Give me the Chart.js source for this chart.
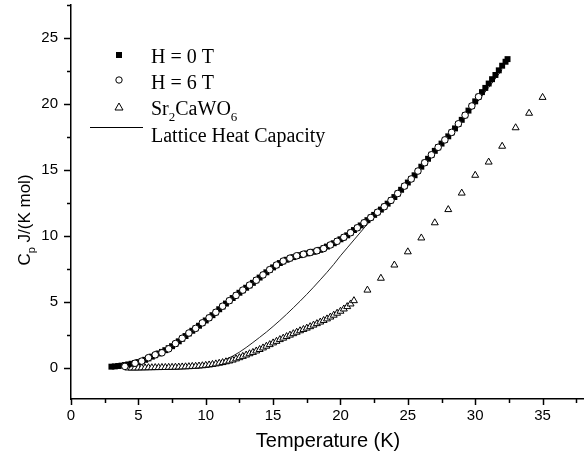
<!DOCTYPE html>
<html>
<head>
<meta charset="utf-8">
<script src="https://cdn.jsdelivr.net/npm/chart.js@4"></script>
<style>
  body { margin: 0; background: #fff; }
  canvas { display: block; }
</style>
</head>
<body>
<canvas id="cpChart" width="584" height="472"></canvas>
<script>
// ---- data ----

// H = 0 T (filled squares)
const tempH0 = [3.00, 3.25, 3.50, 3.75, 4.00, 4.25, 4.50, 4.75, 5.00, 5.25, 5.50, 5.75, 6.00, 6.25, 6.50, 6.75,
  7.00, 7.25, 7.50, 7.75, 8.00, 8.25, 8.50, 8.75, 9.00, 9.25, 9.50, 9.75, 10.00, 10.25, 10.50, 10.75,
  11.00, 11.25, 11.50, 11.75, 12.00, 12.25, 12.50, 12.75, 13.00, 13.25, 13.50, 13.75, 14.00, 14.25, 14.50, 14.75,
  15.00, 15.25, 15.50, 15.75, 16.00, 16.25, 16.50, 16.75, 17.00, 17.25, 17.50, 17.75, 18.00, 18.25, 18.50, 18.75,
  19.00, 19.25, 19.50, 19.75, 20.00, 20.25, 20.50, 20.75, 21.00, 21.25, 21.50, 21.75, 22.00, 22.25, 22.50, 22.75,
  23.00, 23.25, 23.50, 23.75, 24.00, 24.25, 24.50, 24.75, 25.00, 25.25, 25.50, 25.75, 26.00, 26.25, 26.50, 26.75,
  27.00, 27.25, 27.50, 27.75, 28.00, 28.25, 28.50, 28.75, 29.00, 29.25, 29.50, 29.75, 30.00, 30.25, 30.50, 30.75,
  31.00, 31.25, 31.50, 31.75, 32.00, 32.25, 32.40];
const cpH0 = [0.10, 0.12, 0.15, 0.18, 0.22, 0.27, 0.32, 0.38, 0.45, 0.53, 0.62, 0.73, 0.86, 0.97, 1.10, 1.22,
  1.35, 1.50, 1.65, 1.83, 2.02, 2.22, 2.42, 2.62, 2.82, 3.01, 3.20, 3.40, 3.60, 3.80, 4.00, 4.22,
  4.45, 4.66, 4.88, 5.09, 5.30, 5.50, 5.70, 5.89, 6.08, 6.26, 6.45, 6.65, 6.85, 7.05, 7.25, 7.44,
  7.62, 7.79, 7.95, 8.08, 8.20, 8.31, 8.40, 8.48, 8.55, 8.62, 8.68, 8.74, 8.80, 8.87, 8.95, 9.07,
  9.20, 9.32, 9.45, 9.60, 9.75, 9.90, 10.05, 10.25, 10.45, 10.62, 10.80, 11.00, 11.20, 11.40, 11.60, 11.80,
  12.00, 12.22, 12.45, 12.70, 12.95, 13.22, 13.50, 13.78, 14.05, 14.32, 14.60, 14.92, 15.25, 15.55, 15.85, 16.15,
  16.45, 16.72, 17.00, 17.28, 17.55, 17.85, 18.15, 18.48, 18.80, 19.15, 19.50, 19.85, 20.20, 20.55, 20.90, 21.22,
  21.55, 21.88, 22.20, 22.55, 22.90, 23.20, 23.40];

// H = 6 T (open circles)
const tempH6 = [4.0, 4.75, 5.25, 5.75, 6.25, 6.75, 7.25, 7.75, 8.25, 8.75, 9.25, 9.75, 10.25, 10.75,
  11.25, 11.75, 12.25, 12.75, 13.25, 13.75, 14.25, 14.75, 15.25, 15.75, 16.25, 16.75, 17.25, 17.75,
  18.25, 18.75, 19.25, 19.75, 20.25, 20.75, 21.25, 21.75, 22.25, 22.75, 23.25, 23.75, 24.25, 24.75,
  25.25, 25.75, 26.25, 26.75, 27.25, 27.75, 28.25, 28.75, 29.25, 29.75, 30.25];
const cpH6 = [0.12, 0.36, 0.52, 0.78, 1.00, 1.15, 1.45, 1.85, 2.25, 2.65, 3.00, 3.42, 3.80, 4.22,
  4.68, 5.10, 5.50, 5.90, 6.28, 6.65, 7.05, 7.45, 7.80, 8.10, 8.32, 8.50, 8.62, 8.75,
  8.88, 9.05, 9.32, 9.60, 9.90, 10.25, 10.62, 11.00, 11.40, 11.80, 12.22, 12.70, 13.22, 13.78,
  14.32, 14.92, 15.55, 16.15, 16.72, 17.28, 17.85, 18.50, 19.15, 19.85, 20.55];

// Sr2CaWO6 (open triangles)
const tempSr = [4.25, 4.50, 4.75, 5.00, 5.25, 5.50, 5.75, 6.00, 6.25, 6.50, 6.75, 7.00, 7.25, 7.50, 7.75, 8.00,
  8.25, 8.50, 8.75, 9.00, 9.25, 9.50, 9.75, 10.00, 10.25, 10.50, 10.75, 11.00, 11.25, 11.50, 11.75, 12.00,
  12.25, 12.50, 12.75, 13.00, 13.25, 13.50, 13.75, 14.00, 14.25, 14.50, 14.75, 15.00, 15.25, 15.50, 15.75, 16.00,
  16.25, 16.50, 16.75, 17.00, 17.25, 17.50, 17.75, 18.00, 18.25, 18.50, 18.75, 19.00, 19.25, 19.50, 19.75, 20.00,
  20.25, 20.50, 20.75, 21, 22, 23, 24, 25, 26, 27, 28, 29, 30, 31, 32, 33, 34, 35];
const cpSr = [0.00, 0.00, 0.00, 0.00, 0.01, 0.01, 0.02, 0.02, 0.03, 0.03, 0.04, 0.04, 0.05, 0.05, 0.06, 0.07,
  0.08, 0.09, 0.10, 0.12, 0.13, 0.15, 0.17, 0.20, 0.23, 0.27, 0.31, 0.36, 0.41, 0.47, 0.53, 0.60,
  0.69, 0.78, 0.88, 0.98, 1.08, 1.18, 1.29, 1.40, 1.52, 1.65, 1.77, 1.90, 2.02, 2.15, 2.26, 2.38,
  2.49, 2.60, 2.71, 2.82, 2.92, 3.02, 3.13, 3.25, 3.36, 3.48, 3.60, 3.72, 3.86, 4.00, 4.15, 4.30,
  4.47, 4.65, 4.85, 5.10, 5.90, 6.80, 7.80, 8.80, 9.85, 11.00, 12.00, 13.25, 14.60, 15.60, 16.80, 18.20, 19.30, 20.50];

// Lattice heat capacity (thin line)
const tempLat = [4, 5, 6, 7, 8, 9, 10, 10.5, 11, 11.5, 12, 12.5, 13, 13.5, 14, 14.5, 15, 15.5, 16,
  16.5, 17, 17.5, 18, 18.5, 19, 19.5, 20, 20.5, 21, 21.5, 22, 23, 24, 25, 26, 27, 28, 29, 30, 31, 32];
const cpLat = [0.00, 0.00, 0.01, 0.03, 0.06, 0.10, 0.20, 0.30, 0.45, 0.65, 0.90, 1.20, 1.55, 1.93, 2.32, 2.72, 3.15, 3.60, 4.07,
  4.56, 5.06, 5.58, 6.12, 6.68, 7.25, 7.85, 8.50, 9.10, 9.70, 10.30, 10.90, 11.95, 13.00, 14.05, 15.15, 16.30, 17.45, 18.65, 19.95, 21.25, 22.60];

// axis ticks
const xTicks = [0, 5, 10, 15, 20, 25, 30, 35];
const yTicks = [0, 5, 10, 15, 20, 25];

const toPoints = (xs, ys) => xs.map((v, i) => ({ x: v, y: ys[i] }));

const SANS = '"Liberation Sans", Arial, sans-serif';
const SERIF = '"Liberation Serif", "Times New Roman", serif';

// ---- extra drawing: tick marks, axis titles, legend ----
const extrasPlugin = {
    id: 'extras',
    afterDraw(chart) {
        const ctx = chart.ctx;
        const xs = chart.scales.x;
        const ys = chart.scales.y;
        const area = chart.chartArea;

        ctx.save();
        ctx.strokeStyle = '#000';
        ctx.lineWidth = 1.5;

        // major + minor ticks, pointing outward
        for (let v = 0; v <= xs.max; v += 2.5) {
            const px = Math.round(xs.getPixelForValue(v)) + 0.5;
            const len = v % 5 === 0 ? 6 : 4;
            ctx.beginPath();
            ctx.moveTo(px, area.bottom);
            ctx.lineTo(px, area.bottom + len);
            ctx.stroke();
        }
        for (let v = 0; v <= ys.max; v += 2.5) {
            const py = Math.round(ys.getPixelForValue(v)) + 0.5;
            const len = v % 5 === 0 ? 7 : 4;
            ctx.beginPath();
            ctx.moveTo(area.left, py);
            ctx.lineTo(area.left - len, py);
            ctx.stroke();
        }

        ctx.fillStyle = '#000';

        // x title
        ctx.font = '20px ' + SANS;
        ctx.textAlign = 'center';
        ctx.textBaseline = 'middle';
        ctx.fillText('Temperature (K)', 328, 441);

        // y title with subscript p
        ctx.save();
        ctx.translate(24, 220);
        ctx.rotate(-Math.PI / 2);
        ctx.textAlign = 'left';
        ctx.textBaseline = 'alphabetic';
        ctx.font = '17px ' + SANS;
        const wC = ctx.measureText('C').width;
        const rest = ' J/(K mol)';
        const wRest = ctx.measureText(rest).width;
        ctx.font = '11px ' + SANS;
        const wP = ctx.measureText('p').width;
        let cx = -(wC + wP + wRest) / 2;
        ctx.font = '17px ' + SANS;
        ctx.fillText('C', cx, 6);
        cx += wC;
        ctx.font = '11px ' + SANS;
        ctx.fillText('p', cx, 11);
        cx += wP;
        ctx.font = '17px ' + SANS;
        ctx.fillText(rest, cx, 6);
        ctx.restore();

        // legend
        const mx = 119;
        const tx = 151;
        ctx.textAlign = 'left';
        ctx.textBaseline = 'alphabetic';
        ctx.font = '20px ' + SERIF;

        // filled square
        ctx.fillRect(mx - 3, 55 - 3, 6, 6);
        ctx.fillText('H = 0 T', tx, 63);

        // open circle
        ctx.lineWidth = 1;
        ctx.beginPath();
        ctx.arc(mx, 80, 3.2, 0, Math.PI * 2);
        ctx.fillStyle = '#fff';
        ctx.fill();
        ctx.stroke();
        ctx.fillStyle = '#000';
        ctx.fillText('H = 6 T', tx, 89);

        // open triangle
        ctx.beginPath();
        ctx.moveTo(mx, 103);
        ctx.lineTo(mx + 4, 110);
        ctx.lineTo(mx - 4, 110);
        ctx.closePath();
        ctx.stroke();
        let sx = tx;
        const parts = [['Sr', 0], ['2', 1], ['CaWO', 0], ['6', 1]];
        parts.forEach(([t, sub]) => {
            ctx.font = sub ? '13px ' + SERIF : '20px ' + SERIF;
            ctx.fillText(t, sx, sub ? 121 : 115);
            sx += ctx.measureText(t).width;
        });

        // lattice line sample
        ctx.font = '20px ' + SERIF;
        ctx.beginPath();
        ctx.moveTo(90, 127.5);
        ctx.lineTo(143, 127.5);
        ctx.stroke();
        ctx.fillText('Lattice Heat Capacity', tx, 142);

        ctx.restore();
    }
};

const ctxCp = document.getElementById('cpChart').getContext('2d');
const cpChart = new Chart(ctxCp, {
    type: 'scatter',
    data: {
        datasets: [
            {
                label: 'H = 6 T',
                data: toPoints(tempH6, cpH6),
                pointStyle: 'circle',
                pointRadius: 3.3,
                backgroundColor: '#fff',
                borderColor: '#000',
                borderWidth: 1,
                order: 0
            },
            {
                label: 'H = 0 T',
                data: toPoints(tempH0, cpH0),
                pointStyle: 'rect',
                pointRadius: 4.2,
                backgroundColor: '#000',
                borderColor: '#000',
                borderWidth: 0,
                order: 1
            },
            {
                label: 'Sr2CaWO6',
                data: toPoints(tempSr, cpSr),
                pointStyle: 'triangle',
                pointRadius: 4,
                backgroundColor: '#fff',
                borderColor: '#000',
                borderWidth: 1,
                order: 2
            },
            {
                label: 'Lattice Heat Capacity',
                data: toPoints(tempLat, cpLat),
                showLine: true,
                pointRadius: 0,
                borderColor: '#222',
                borderWidth: 1,
                cubicInterpolationMode: 'monotone',
                order: 3
            }
        ]
    },
    plugins: [extrasPlugin],
    options: {
        responsive: false,
        devicePixelRatio: 1,
        animation: false,
        layout: { autoPadding: false, padding: { left: 0, top: 5, right: 1, bottom: 0 } },
        plugins: {
            legend: { display: false },
            tooltip: { enabled: false }
        },
        scales: {
            x: {
                type: 'linear',
                min: 0,
                max: 38,
                grid: { display: false, drawTicks: false },
                border: { display: true, color: '#000', width: 1.5 },
                afterBuildTicks: (scale) => { scale.ticks = xTicks.map(v => ({ value: v })); },
                ticks: {
                    color: '#000',
                    font: { family: SANS, size: 15 },
                    padding: 8,
                    maxRotation: 0
                },
                afterFit: (scale) => {
                    scale.height = 73;
                    scale.paddingLeft = 0;
                    scale.paddingRight = 0;
                }
            },
            y: {
                type: 'linear',
                min: -2.35,
                max: 27.5,
                grid: { display: false, drawTicks: false },
                border: { display: true, color: '#000', width: 1.5 },
                afterBuildTicks: (scale) => { scale.ticks = yTicks.map(v => ({ value: v })); },
                ticks: {
                    color: '#000',
                    font: { family: SANS, size: 15 },
                    padding: 13
                },
                afterFit: (scale) => {
                    scale.width = 71;
                    scale.paddingTop = 0;
                    scale.paddingBottom = 0;
                }
            }
        }
    }
});
</script>
</body>
</html>
